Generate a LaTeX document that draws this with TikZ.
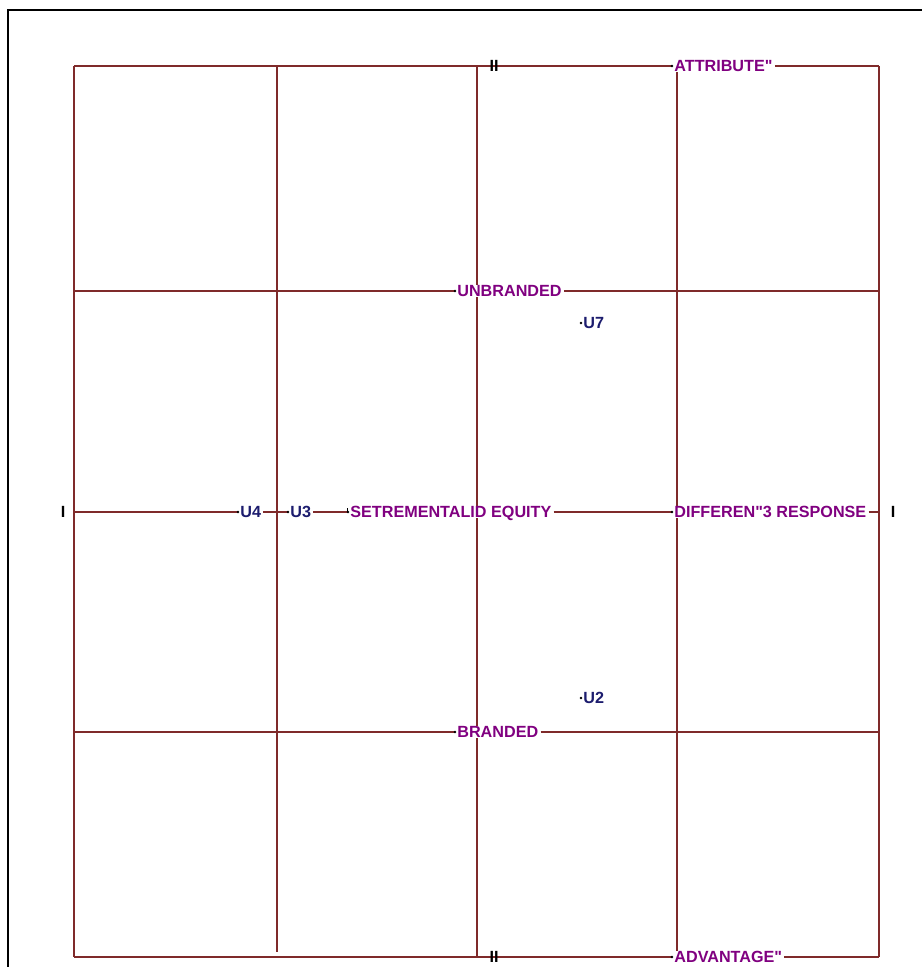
\documentclass[tikz,border=0pt]{standalone}
\usepackage{fontspec}
\setmainfont{Liberation Sans}
\usepackage{xcolor}
\usepackage{tikz}
\definecolor{rule}{HTML}{7F2A2A}
\definecolor{label}{HTML}{800080}
\definecolor{unit}{HTML}{1C1C6E}
\definecolor{frame}{HTML}{000000}

\begin{document}
\begin{tikzpicture}[
  x=0.025cm, y=-0.025cm,
  gridline/.style={draw=rule, line width=1.4pt},
  lbl/.style={anchor=west, fill=white, inner xsep=1.5pt, inner ysep=0pt,
    text height=8.2pt, text depth=0pt, text=label,
    font=\bfseries\fontsize{11.5}{12}\selectfont},
  ulbl/.style={lbl, text=unit},
  tickmark/.style={inner sep=0pt, text=black,
    font=\bfseries\fontsize{11.5}{12}\selectfont},
  dot/.style={fill=black, draw=none},
]
  \useasboundingbox[fill=white] (0,0) rectangle (922,967);
  % outer frame
  \draw[frame, line width=1.1pt] (8,967) -- (8,10) -- (922,10);

  % grid corners
  \coordinate (tl) at (74,66);
  \coordinate (tr) at (879,66);
  \coordinate (bl) at (74,957);
  \coordinate (br) at (879,957);

  % vertical grid lines
  \draw[gridline] (tl) -- (bl);
  \draw[gridline] (277,66) -- (277,952);
  \draw[gridline] (477,66) -- (477,957);
  \draw[gridline] (677,66) -- (677,957);
  \draw[gridline] (tr) -- (br);

  % labels
  \node[lbl] (attr) at (672,66) {ATTRIBUTE\textquotedbl};
  \node[lbl] (unbr) at (455,291) {UNBRANDED};
  \node[ulbl] (u7) at (581,323) {U7};
  \node[ulbl] (u4) at (238,512) {U4};
  \node[ulbl] (u3) at (288,512) {U3};
  \node[lbl] (seteq) at (348,512) {SETREMENTALID EQUITY};
  \node[lbl] (diff) at (672,512) {DIFFEREN\textquotedbl3 RESPONSE};
  \node[ulbl] (u2) at (581,698) {U2};
  \node[lbl] (brand) at (455,732) {BRANDED};
  \node[lbl] (adv) at (672,957) {ADVANTAGE\textquotedbl};

  % horizontal grid lines
  \draw[gridline] (tl) -- (attr.west);
  \draw[gridline] (attr.east) -- (tr);
  \draw[gridline] (74,291) -- (unbr.west);
  \draw[gridline] (unbr.east) -- (879,291);
  \draw[gridline] (74,512) -- (u4.west);
  \draw[gridline] (u4.east) -- (u3.west);
  \draw[gridline] (u3.east) -- (seteq.west);
  \draw[gridline] (seteq.east) -- (diff.west);
  \draw[gridline] (diff.east) -- (879,512);
  \draw[gridline] (74,732) -- (brand.west);
  \draw[gridline] (brand.east) -- (879,732);
  \draw[gridline] (bl) -- (adv.west);
  \draw[gridline] (adv.east) -- (br);

  % small marks in front of the labels
  \foreach \n in {attr,unbr,u7,u4,u3,seteq,diff,u2,brand,adv}
    \fill[dot] (\n.west) circle (1.4);
  \draw[black, line width=0.8pt] ([xshift=-0.5pt]seteq.west) -- ++(0,-4);

  % ticks
  \node[tickmark] (ttop) at (494,66) {II};
  \node[tickmark] (tbot) at (494,957) {II};
  \node[tickmark] (tleft) at (63,512) {I};
  \node[tickmark] (tright) at (893,512) {I};
\end{tikzpicture}
\end{document}
